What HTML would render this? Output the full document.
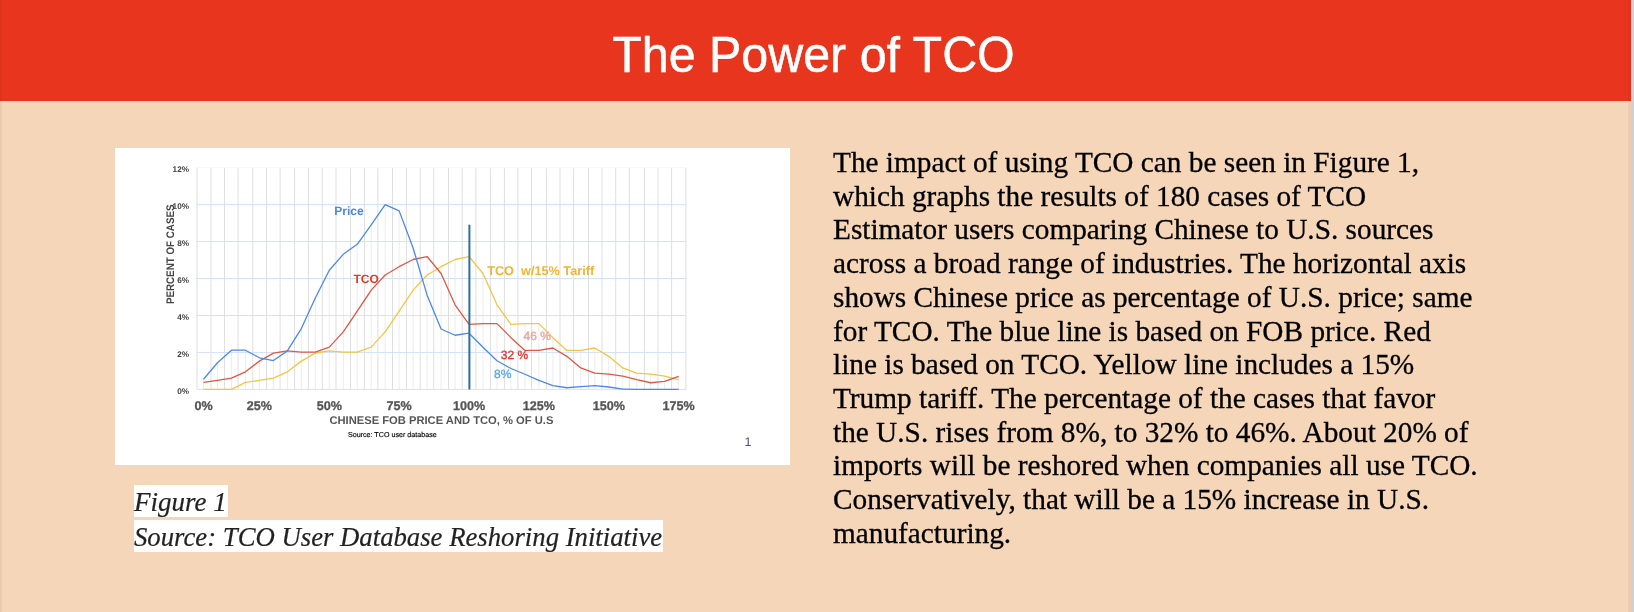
<!DOCTYPE html>
<html><head><meta charset="utf-8">
<style>
html,body{margin:0;padding:0;}
body{width:1634px;height:612px;overflow:hidden;background:#f5d6b9;position:relative;font-family:"Liberation Sans",sans-serif;}
#hdr{position:absolute;left:0;top:0;width:1631px;height:101px;background:#e8361e;}
#title{will-change:transform;position:absolute;left:0;width:1627px;top:31px;text-align:center;color:#fff;font-size:48.4px;line-height:48px;-webkit-text-stroke:0.45px #fff;transform:scaleY(1.045);transform-origin:50% 41px;}
#strip{position:absolute;left:1631px;top:0;width:3px;height:612px;background:#cdd0d4;}
#chart{position:absolute;left:115px;top:148px;width:675px;height:317px;background:#fff;will-change:transform;}
#chart svg{position:absolute;left:0;top:0;}
#body{will-change:transform;position:absolute;left:833px;top:146px;-webkit-text-stroke:0.3px #000;font-family:"Liberation Serif",serif;font-size:29.3px;line-height:33.7px;color:#000;white-space:nowrap;}
.cap{-webkit-text-stroke:0.2px #222;will-change:transform;position:absolute;left:134px;background:#fff;font-family:"Liberation Serif",serif;font-style:italic;font-size:27px;color:#222;white-space:nowrap;}
</style></head><body>
<div id="hdr"></div>
<div id="title">The Power of TCO</div>
<div id="strip"></div>
<div style="position:absolute;left:1628px;top:0;width:3px;height:612px;background:rgba(90,40,0,0.055);"></div>
<div style="position:absolute;left:0;top:0;width:2px;height:612px;background:rgba(90,40,0,0.06);"></div>
<div id="chart"><svg width="675" height="317" viewBox="115 148 675 317" font-family="Liberation Sans, sans-serif" text-rendering="geometricPrecision">
<line x1="203.50" y1="379.24" x2="203.50" y2="389.4" stroke="#ececec" stroke-width="1"/>
<line x1="217.47" y1="362.79" x2="217.47" y2="389.4" stroke="#ececec" stroke-width="1"/>
<line x1="231.45" y1="350.22" x2="231.45" y2="389.4" stroke="#ececec" stroke-width="1"/>
<line x1="245.43" y1="350.22" x2="245.43" y2="389.4" stroke="#ececec" stroke-width="1"/>
<line x1="259.40" y1="357.80" x2="259.40" y2="389.4" stroke="#ececec" stroke-width="1"/>
<line x1="273.38" y1="353.18" x2="273.38" y2="389.4" stroke="#ececec" stroke-width="1"/>
<line x1="287.35" y1="350.96" x2="287.35" y2="389.4" stroke="#ececec" stroke-width="1"/>
<line x1="301.32" y1="328.60" x2="301.32" y2="389.4" stroke="#ececec" stroke-width="1"/>
<line x1="315.30" y1="297.92" x2="315.30" y2="389.4" stroke="#ececec" stroke-width="1"/>
<line x1="329.27" y1="270.20" x2="329.27" y2="389.4" stroke="#ececec" stroke-width="1"/>
<line x1="343.25" y1="254.31" x2="343.25" y2="389.4" stroke="#ececec" stroke-width="1"/>
<line x1="357.23" y1="244.33" x2="357.23" y2="389.4" stroke="#ececec" stroke-width="1"/>
<line x1="371.20" y1="224.93" x2="371.20" y2="389.4" stroke="#ececec" stroke-width="1"/>
<line x1="385.17" y1="204.60" x2="385.17" y2="389.4" stroke="#ececec" stroke-width="1"/>
<line x1="399.15" y1="210.88" x2="399.15" y2="389.4" stroke="#ececec" stroke-width="1"/>
<line x1="413.12" y1="248.03" x2="413.12" y2="389.4" stroke="#ececec" stroke-width="1"/>
<line x1="427.10" y1="256.53" x2="427.10" y2="389.4" stroke="#ececec" stroke-width="1"/>
<line x1="441.07" y1="266.69" x2="441.07" y2="389.4" stroke="#ececec" stroke-width="1"/>
<line x1="455.05" y1="259.49" x2="455.05" y2="389.4" stroke="#ececec" stroke-width="1"/>
<line x1="469.02" y1="256.53" x2="469.02" y2="389.4" stroke="#ececec" stroke-width="1"/>
<line x1="483.00" y1="273.53" x2="483.00" y2="389.4" stroke="#ececec" stroke-width="1"/>
<line x1="496.97" y1="304.76" x2="496.97" y2="389.4" stroke="#ececec" stroke-width="1"/>
<line x1="510.95" y1="324.35" x2="510.95" y2="389.4" stroke="#ececec" stroke-width="1"/>
<line x1="524.92" y1="323.61" x2="524.92" y2="389.4" stroke="#ececec" stroke-width="1"/>
<line x1="538.90" y1="323.61" x2="538.90" y2="389.4" stroke="#ececec" stroke-width="1"/>
<line x1="552.88" y1="337.66" x2="552.88" y2="389.4" stroke="#ececec" stroke-width="1"/>
<line x1="566.85" y1="350.41" x2="566.85" y2="389.4" stroke="#ececec" stroke-width="1"/>
<line x1="580.83" y1="350.41" x2="580.83" y2="389.4" stroke="#ececec" stroke-width="1"/>
<line x1="594.80" y1="348.00" x2="594.80" y2="389.4" stroke="#ececec" stroke-width="1"/>
<line x1="608.77" y1="356.32" x2="608.77" y2="389.4" stroke="#ececec" stroke-width="1"/>
<line x1="622.75" y1="367.96" x2="622.75" y2="389.4" stroke="#ececec" stroke-width="1"/>
<line x1="636.72" y1="373.14" x2="636.72" y2="389.4" stroke="#ececec" stroke-width="1"/>
<line x1="650.70" y1="374.06" x2="650.70" y2="389.4" stroke="#ececec" stroke-width="1"/>
<line x1="664.67" y1="376.09" x2="664.67" y2="389.4" stroke="#ececec" stroke-width="1"/>
<line x1="678.65" y1="376.28" x2="678.65" y2="389.4" stroke="#ececec" stroke-width="1"/>
<line x1="196.96" y1="167.8" x2="196.96" y2="389.4" stroke="#dfdfdf" stroke-width="1"/>
<line x1="211.03" y1="167.8" x2="211.03" y2="389.4" stroke="#dfdfdf" stroke-width="1"/>
<line x1="224.50" y1="167.8" x2="224.50" y2="389.4" stroke="#dfdfdf" stroke-width="1"/>
<line x1="238.10" y1="167.8" x2="238.10" y2="389.4" stroke="#dfdfdf" stroke-width="1"/>
<line x1="252.80" y1="167.8" x2="252.80" y2="389.4" stroke="#dfdfdf" stroke-width="1"/>
<line x1="266.50" y1="167.8" x2="266.50" y2="389.4" stroke="#dfdfdf" stroke-width="1"/>
<line x1="280.10" y1="167.8" x2="280.10" y2="389.4" stroke="#dfdfdf" stroke-width="1"/>
<line x1="294.60" y1="167.8" x2="294.60" y2="389.4" stroke="#dfdfdf" stroke-width="1"/>
<line x1="308.40" y1="167.8" x2="308.40" y2="389.4" stroke="#dfdfdf" stroke-width="1"/>
<line x1="322.30" y1="167.8" x2="322.30" y2="389.4" stroke="#dfdfdf" stroke-width="1"/>
<line x1="336.00" y1="167.8" x2="336.00" y2="389.4" stroke="#dfdfdf" stroke-width="1"/>
<line x1="350.50" y1="167.8" x2="350.50" y2="389.4" stroke="#dfdfdf" stroke-width="1"/>
<line x1="364.40" y1="167.8" x2="364.40" y2="389.4" stroke="#dfdfdf" stroke-width="1"/>
<line x1="377.90" y1="167.8" x2="377.90" y2="389.4" stroke="#dfdfdf" stroke-width="1"/>
<line x1="392.50" y1="167.8" x2="392.50" y2="389.4" stroke="#dfdfdf" stroke-width="1"/>
<line x1="406.40" y1="167.8" x2="406.40" y2="389.4" stroke="#dfdfdf" stroke-width="1"/>
<line x1="420.20" y1="167.8" x2="420.20" y2="389.4" stroke="#dfdfdf" stroke-width="1"/>
<line x1="433.70" y1="167.8" x2="433.70" y2="389.4" stroke="#dfdfdf" stroke-width="1"/>
<line x1="448.50" y1="167.8" x2="448.50" y2="389.4" stroke="#dfdfdf" stroke-width="1"/>
<line x1="462.20" y1="167.8" x2="462.20" y2="389.4" stroke="#dfdfdf" stroke-width="1"/>
<line x1="475.90" y1="167.8" x2="475.90" y2="389.4" stroke="#dfdfdf" stroke-width="1"/>
<line x1="490.40" y1="167.8" x2="490.40" y2="389.4" stroke="#dfdfdf" stroke-width="1"/>
<line x1="504.40" y1="167.8" x2="504.40" y2="389.4" stroke="#dfdfdf" stroke-width="1"/>
<line x1="517.90" y1="167.8" x2="517.90" y2="389.4" stroke="#dfdfdf" stroke-width="1"/>
<line x1="531.50" y1="167.8" x2="531.50" y2="389.4" stroke="#dfdfdf" stroke-width="1"/>
<line x1="546.40" y1="167.8" x2="546.40" y2="389.4" stroke="#dfdfdf" stroke-width="1"/>
<line x1="560.00" y1="167.8" x2="560.00" y2="389.4" stroke="#dfdfdf" stroke-width="1"/>
<line x1="573.60" y1="167.8" x2="573.60" y2="389.4" stroke="#dfdfdf" stroke-width="1"/>
<line x1="588.50" y1="167.8" x2="588.50" y2="389.4" stroke="#dfdfdf" stroke-width="1"/>
<line x1="602.00" y1="167.8" x2="602.00" y2="389.4" stroke="#dfdfdf" stroke-width="1"/>
<line x1="615.70" y1="167.8" x2="615.70" y2="389.4" stroke="#dfdfdf" stroke-width="1"/>
<line x1="629.30" y1="167.8" x2="629.30" y2="389.4" stroke="#dfdfdf" stroke-width="1"/>
<line x1="644.40" y1="167.8" x2="644.40" y2="389.4" stroke="#dfdfdf" stroke-width="1"/>
<line x1="658.00" y1="167.8" x2="658.00" y2="389.4" stroke="#dfdfdf" stroke-width="1"/>
<line x1="671.60" y1="167.8" x2="671.60" y2="389.4" stroke="#dfdfdf" stroke-width="1"/>
<line x1="685.90" y1="167.8" x2="685.90" y2="389.4" stroke="#dfdfdf" stroke-width="1"/>
<line x1="196.9" y1="352.44" x2="685.9" y2="352.44" stroke="#d3e1f8" stroke-width="1"/>
<line x1="196.9" y1="315.48" x2="685.9" y2="315.48" stroke="#d3e1f8" stroke-width="1"/>
<line x1="196.9" y1="278.52" x2="685.9" y2="278.52" stroke="#d3e1f8" stroke-width="1"/>
<line x1="196.9" y1="241.56" x2="685.9" y2="241.56" stroke="#d3e1f8" stroke-width="1"/>
<line x1="196.9" y1="204.60" x2="685.9" y2="204.60" stroke="#d3e1f8" stroke-width="1"/>
<line x1="196.9" y1="167.64" x2="685.9" y2="167.64" stroke="#f3f6fc" stroke-width="1"/>
<line x1="196.9" y1="389.4" x2="685.9" y2="389.4" stroke="#e0e0e0" stroke-width="1"/>
<polyline points="203.50,389.40 217.47,389.40 231.45,389.40 245.43,382.38 259.40,380.34 273.38,378.13 287.35,371.84 301.32,361.13 315.30,353.18 329.27,350.96 343.25,352.07 357.23,352.07 371.20,347.08 385.17,331.93 399.15,311.04 413.12,290.16 427.10,275.01 441.07,266.69 455.05,259.49 469.02,256.53 483.00,273.53 496.97,304.76 510.95,324.35 524.92,323.61 538.90,323.61 552.88,337.66 566.85,350.41 580.83,350.41 594.80,348.00 608.77,356.32 622.75,367.96 636.72,373.14 650.70,374.06 664.67,376.09 678.65,379.61" fill="none" stroke="#f4c442" stroke-width="1.3" stroke-linejoin="round"/>
<polyline points="203.50,382.38 217.47,380.34 231.45,378.13 245.43,371.84 259.40,361.13 273.38,353.18 287.35,350.96 301.32,352.07 315.30,352.07 329.27,347.08 343.25,331.93 357.23,311.04 371.20,290.16 385.17,275.01 399.15,266.69 413.12,259.49 427.10,256.53 441.07,273.53 455.05,304.76 469.02,324.35 483.00,323.61 496.97,323.61 510.95,337.66 524.92,350.41 538.90,350.41 552.88,348.00 566.85,356.32 580.83,367.96 594.80,373.14 608.77,374.06 622.75,376.09 636.72,379.61 650.70,382.75 664.67,381.45 678.65,376.28" fill="none" stroke="#df5843" stroke-width="1.3" stroke-linejoin="round"/>
<polyline points="203.50,379.24 217.47,362.79 231.45,350.22 245.43,350.22 259.40,357.80 273.38,360.57 287.35,350.96 301.32,328.60 315.30,297.92 329.27,270.20 343.25,254.31 357.23,244.33 371.20,224.93 385.17,204.60 399.15,210.88 413.12,248.03 427.10,295.15 441.07,328.97 455.05,335.25 469.02,333.22 483.00,347.27 496.97,360.76 510.95,368.52 524.92,374.25 538.90,380.34 552.88,385.52 566.85,387.74 580.83,386.63 594.80,385.70 608.77,387.00 622.75,389.03 636.72,389.40 650.70,389.40 664.67,389.40 678.65,389.40" fill="none" stroke="#4a89e8" stroke-width="1.3" stroke-linejoin="round"/>
<line x1="469.4" y1="224.7" x2="469.4" y2="389.5" stroke="#2a70a3" stroke-width="2"/>
<text x="189" y="394.0" font-size="8.2" fill="#444" font-weight="700" text-anchor="end" >0%</text>
<text x="189" y="357.0" font-size="8.2" fill="#444" font-weight="700" text-anchor="end" >2%</text>
<text x="189" y="320.1" font-size="8.2" fill="#444" font-weight="700" text-anchor="end" >4%</text>
<text x="189" y="283.1" font-size="8.2" fill="#444" font-weight="700" text-anchor="end" >6%</text>
<text x="189" y="246.2" font-size="8.2" fill="#444" font-weight="700" text-anchor="end" >8%</text>
<text x="189" y="209.2" font-size="8.2" fill="#444" font-weight="700" text-anchor="end" >10%</text>
<text x="189" y="172.2" font-size="8.2" fill="#444" font-weight="700" text-anchor="end" >12%</text>
<text x="203.5" y="410.1" font-size="12.6" fill="#555" font-weight="700" text-anchor="middle" stroke="#555" stroke-width="0.3" >0%</text>
<text x="259.4" y="410.1" font-size="12.6" fill="#555" font-weight="700" text-anchor="middle" stroke="#555" stroke-width="0.3" >25%</text>
<text x="329.3" y="410.1" font-size="12.6" fill="#555" font-weight="700" text-anchor="middle" stroke="#555" stroke-width="0.3" >50%</text>
<text x="399.1" y="410.1" font-size="12.6" fill="#555" font-weight="700" text-anchor="middle" stroke="#555" stroke-width="0.3" >75%</text>
<text x="469.0" y="410.1" font-size="12.6" fill="#555" font-weight="700" text-anchor="middle" stroke="#555" stroke-width="0.3" >100%</text>
<text x="538.9" y="410.1" font-size="12.6" fill="#555" font-weight="700" text-anchor="middle" stroke="#555" stroke-width="0.3" >125%</text>
<text x="608.8" y="410.1" font-size="12.6" fill="#555" font-weight="700" text-anchor="middle" stroke="#555" stroke-width="0.3" >150%</text>
<text x="678.6" y="410.1" font-size="12.6" fill="#555" font-weight="700" text-anchor="middle" stroke="#555" stroke-width="0.3" >175%</text>
<text x="441.4" y="423.7" font-size="11.2" fill="#555" font-weight="700" text-anchor="middle" >CHINESE FOB PRICE AND TCO, % OF U.S</text>
<text x="392.3" y="436.9" font-size="7.15" fill="#000" font-weight="400" text-anchor="middle" stroke="#000" stroke-width="0.15" >Source: TCO user database</text>
<text x="0" y="0" font-size="9.8" fill="#444" font-weight="700" text-anchor="middle" transform="translate(173.9 254.3) rotate(-90) scale(1 1.12)">PERCENT OF CASES</text>
<text x="334.3" y="214.9" font-size="12" fill="#4a86e8" font-weight="700" text-anchor="start" >Price</text>
<text x="353.4" y="282.7" font-size="12" fill="#e0391e" font-weight="700" text-anchor="start" >TCO</text>
<text x="487.2" y="275.4" font-size="12.7" fill="#f1b434" font-weight="700" text-anchor="start" >TCO&#160; w/15% Tariff</text>
<text x="523.5" y="340" font-size="12" fill="#e8a39b" font-weight="400" text-anchor="start" stroke="#e8a39b" stroke-width="0.35" >46 %</text>
<text x="500.8" y="359" font-size="12" fill="#e0392b" font-weight="400" text-anchor="start" stroke="#e0392b" stroke-width="0.35" >32 %</text>
<text x="494" y="377.8" font-size="12" fill="#5aa9ef" font-weight="400" text-anchor="start" stroke="#5aa9ef" stroke-width="0.35" >8%</text>
<text x="744.5" y="445.8" font-size="12.5" fill="#4b4b8f" font-weight="400" text-anchor="start" >1</text>
</svg></div>
<div id="body">The impact of using TCO can be seen in Figure 1,<br>which graphs the results of 180 cases of TCO<br>Estimator users comparing Chinese to U.S. sources<br>across a broad range of industries. The horizontal axis<br>shows Chinese price as percentage of U.S. price; same<br>for TCO. The blue line is based on FOB price. Red<br>line is based on TCO. Yellow line includes a 15%<br>Trump tariff. The percentage of the cases that favor<br>the U.S. rises from 8%, to 32% to 46%. About 20% of<br>imports will be reshored when companies all use TCO.<br>Conservatively, that will be a 15% increase in U.S.<br>manufacturing.</div>
<div class="cap" id="cap1" style="top:485px;width:94px;height:32px;line-height:34px;">Figure 1</div>
<div class="cap" id="cap2" style="top:520px;width:529px;height:32px;line-height:34px;font-size:26.72px;">Source: TCO User Database Reshoring Initiative</div>
</body></html>
